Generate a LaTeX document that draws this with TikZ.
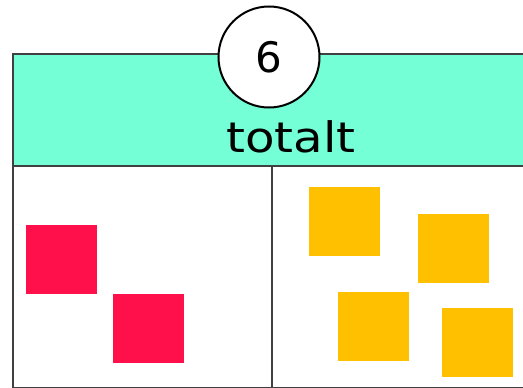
\documentclass[tikz,border=0pt]{standalone}
\usepackage{fontspec}
\setmainfont{DejaVu Sans}
\usetikzlibrary{positioning}

\definecolor{headteal}{HTML}{74FFD6}
\definecolor{chipred}{HTML}{FF104B}
\definecolor{chipyellow}{HTML}{FFC000}

\tikzset{
    frame/.style={draw=black!75, line width=1.5pt, inner sep=0pt, anchor=north west},
    chip/.style={minimum width=71pt, minimum height=69pt, inner sep=0pt, anchor=north west},
    redchip/.style={chip, fill=chipred},
    yellowchip/.style={chip, fill=chipyellow},
    bigtext/.style={font=\fontsize{42}{50}\selectfont}
}

\begin{document}
\begin{tikzpicture}[x=1pt, y=-1pt]
    \useasboundingbox (0,0) rectangle (523,388);
    \clip (0,0) rectangle (523,388);

    % Header band and the two parts
    \node (head) at (12,53) [frame, fill=headteal, minimum width=558pt, minimum height=112pt] {};
    \node (left) at (12,165) [frame, fill=white, minimum width=259pt, minimum height=222pt] {};
    \node (right) at (271,165) [frame, fill=white, minimum width=299pt, minimum height=222pt] {};

    % Labels
    \node (total) at (291,152) [anchor=base, bigtext, xscale=1.15] {totalt};
    \node (count) at (269,57) [circle, draw=black, line width=2pt, fill=white, minimum size=101pt, inner sep=0pt, bigtext] {6};

    % Red chips
    \node (r1) at (26,225) [redchip] {};
    \node (r2) at (113,294) [redchip] {};

    % Yellow chips
    \node (y1) at (309,187) [yellowchip] {};
    \node (y2) at (418,214) [yellowchip] {};
    \node (y3) at (338,292) [yellowchip] {};
    \node (y4) at (442,308) [yellowchip] {};
\end{tikzpicture}
\end{document}
